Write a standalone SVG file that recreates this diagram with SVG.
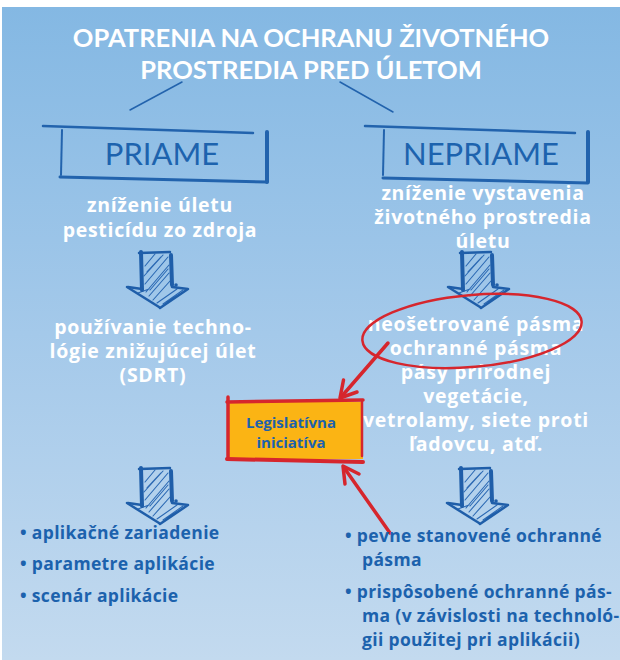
<svg xmlns="http://www.w3.org/2000/svg" width="620" height="660" viewBox="0 0 620 660">
  <defs>
    <linearGradient id="bg" x1="0" y1="0" x2="0" y2="1">
      <stop offset="0" stop-color="#84b8e3"/>
      <stop offset="0.5" stop-color="#a4c9ea"/>
      <stop offset="1" stop-color="#c3daef"/>
    </linearGradient>
    <g id="darrow">
      <g stroke="#2a68b3" stroke-width="1.1" fill="none" stroke-linecap="round">
        <path d="M4,14 L14,2 M3,24 L22,3 M4,32 L27,5 M5,40 L28,13 M8,44 L28,21 M12,48 L29,29 M16,51 L36,37 M-3,41 L8,37 M22,52 L42,38 M26,50 L44,39 M6,20 L20,5 M9,38 L27,17"/>
      </g>
      <g stroke="#1f5ea9" fill="none" stroke-linecap="round" stroke-linejoin="round">
        <path d="M0,0 L1,38" stroke-width="4"/>
        <path d="M-2,1 L29,0" stroke-width="2.5"/>
        <path d="M30,3 L31,33" stroke-width="4"/>
        <path d="M-13,35 L1,37" stroke-width="2.5"/>
        <path d="M-14,35 L18,55" stroke-width="2.5"/>
        <path d="M31,35 L47,37 L19,56" stroke-width="2.5"/>
        <circle cx="35" cy="33" r="1.8" fill="#1f5ea9" stroke="none"/>
      </g>
    </g>
  </defs>
  <style>
    .title { font-family: Lato, "Open Sans", sans-serif; font-weight: bold; font-size: 25.5px; fill: #ffffff; text-anchor: middle; }
    .head { font-family: Lato, "Open Sans", sans-serif; font-weight: normal; font-size: 31px; fill: #1d63ae; text-anchor: middle; }
    .wt { font-family: "Open Sans", Lato, sans-serif; font-weight: bold; font-size: 19.5px; letter-spacing: 0.7px; fill: #ffffff; text-anchor: middle; }
    .bt { font-family: "Open Sans", Lato, sans-serif; font-weight: bold; font-size: 17.5px; letter-spacing: 0.35px; fill: #1c62ad; }
    .leg { font-family: "Open Sans", Lato, sans-serif; font-weight: bold; font-size: 15px; fill: #1c62ad; text-anchor: middle; }
    .sk { stroke: #2263ad; fill: none; stroke-linecap: round; }
    .red { stroke: #d6262d; fill: none; stroke-linecap: round; stroke-linejoin: round; }
  </style>

  <rect x="0" y="0" width="620" height="660" fill="#ffffff"/>
  <rect x="2" y="7" width="618" height="653" fill="url(#bg)"/>

  <g id="title">
    <text class="title" x="311" y="47">OPATRENIA NA OCHRANU ŽIVOTNÉHO</text>
    <text class="title" x="311" y="79">PROSTREDIA PRED ÚLETOM</text>
  </g>

  <g id="connectors">
    <path class="sk" d="M182,82 L130,110" stroke-width="1.5"/>
    <path class="sk" d="M340,82 L393,112" stroke-width="1.5"/>
    <path class="red" d="M388,343 L342,396" stroke-width="3.5"/>
    <path class="red" d="M357,392 L340,398 L343.5,380" stroke-width="3.5"/>
    <path class="red" d="M390,533 L345,469" stroke-width="3.5"/>
    <path class="red" d="M359,474 L343,466 L345,484" stroke-width="3.5"/>
  </g>

  <g id="priame">
    <path class="sk" d="M43,126 L253,133" stroke-width="2.5"/>
    <path class="sk" d="M62,130 L61,175" stroke-width="2"/>
    <path class="sk" d="M267,132 L267,182" stroke-width="4"/>
    <path class="sk" d="M60,177 L267,182" stroke-width="3"/>
    <text class="head" x="162" y="165">PRIAME</text>
  </g>

  <g id="nepriame">
    <path class="sk" d="M365,126 L575,133" stroke-width="2.5"/>
    <path class="sk" d="M384,130 L383,175" stroke-width="2"/>
    <path class="sk" d="M588,132 L588,182" stroke-width="4"/>
    <path class="sk" d="M383,178 L588,183" stroke-width="3"/>
    <text class="head" x="481" y="165">NEPRIAME</text>
  </g>

  <g id="left-sub">
    <text class="wt" x="160" y="212">zníženie úletu</text>
    <text class="wt" x="160" y="237">pesticídu zo zdroja</text>
  </g>

  <g id="right-sub">
    <text class="wt" x="483" y="200">zníženie vystavenia</text>
    <text class="wt" x="483" y="224">životného prostredia</text>
    <text class="wt" x="483" y="248">úletu</text>
  </g>

  <g id="arrows">
    <use href="#darrow" transform="translate(141,252)"/>
    <use href="#darrow" transform="translate(462,252)"/>
    <use href="#darrow" transform="translate(141,468)"/>
    <use href="#darrow" transform="translate(461,468)"/>
  </g>

  <g id="left-mid">
    <text class="wt" x="153" y="334">používanie techno-</text>
    <text class="wt" x="153" y="358">lógie znižujúcej úlet</text>
    <text class="wt" x="153" y="382">(SDRT)</text>
  </g>

  <g id="right-mid">
    <text class="wt" x="476" y="331">neošetrované pásma</text>
    <text class="wt" x="476" y="355">ochranné pásma</text>
    <text class="wt" x="476" y="379">pásy prírodnej</text>
    <text class="wt" x="476" y="403">vegetácie,</text>
    <text class="wt" x="476" y="427">vetrolamy, siete proti</text>
    <text class="wt" x="476" y="451">ľadovcu, atď.</text>
  </g>

  <g id="highlight">
    <ellipse class="red" cx="472" cy="331" rx="110" ry="36" transform="rotate(-5 472 331)" stroke-width="2.5"/>
  </g>

  <g id="legislativna">
    <rect x="229" y="402" width="134" height="57" fill="#fbb414"/>
    <path class="red" d="M227,402 L363,400" stroke-width="3.5"/>
    <path class="red" d="M228,397 L228,459" stroke-width="3.5"/>
    <path class="red" d="M362,402 L362,456" stroke-width="2.5"/>
    <path class="red" d="M227,459 L363,462" stroke-width="4"/>
    <text class="leg" x="291" y="428">Legislatívna</text>
    <text class="leg" x="291" y="448">iniciatíva</text>
  </g>

  <g id="left-list">
    <text class="bt" x="20" y="539">• aplikačné zariadenie</text>
    <text class="bt" x="20" y="570">• parametre aplikácie</text>
    <text class="bt" x="20" y="602">• scenár aplikácie</text>
  </g>

  <g id="right-list">
    <text class="bt" x="345" y="542">• pevne stanovené ochranné</text>
    <text class="bt" x="362" y="566">pásma</text>
    <text class="bt" x="345" y="598">• prispôsobené ochranné pás-</text>
    <text class="bt" x="362" y="622">ma (v závislosti na technoló-</text>
    <text class="bt" x="362" y="646">gii použitej pri aplikácii)</text>
  </g>
</svg>
